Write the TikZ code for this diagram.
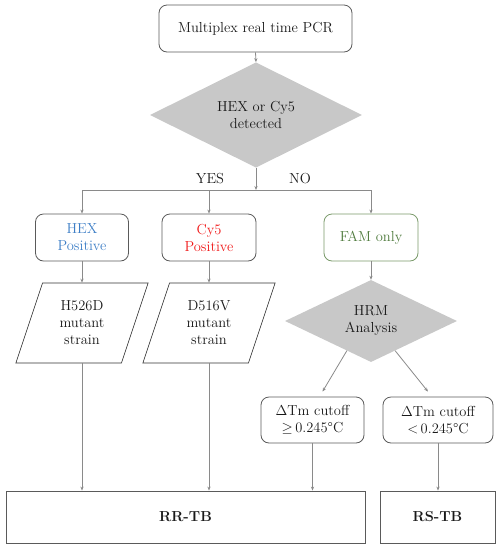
\documentclass[tikz,border=0pt]{standalone}
\usetikzlibrary{shapes.geometric,arrows.meta,calc}
\definecolor{linegray}{HTML}{8A8A8A}
\definecolor{boxgray}{HTML}{5A5A5A}
\definecolor{diafill}{HTML}{C8C8C8}
\definecolor{hexblue}{HTML}{3D7EC6}
\definecolor{cyred}{HTML}{F01818}
\definecolor{famgreen}{HTML}{4E7A3C}
\definecolor{famborder}{HTML}{7A9A6A}
\tikzset{
  txt/.style={font=\fontsize{14.5}{17}\selectfont, align=center, text=black!90},
  rbox/.style={txt, draw=boxgray, line width=0.8pt, rounded corners=8pt, inner sep=0pt},
  dia/.style={txt, diamond, fill=diafill, draw=none, inner sep=0pt},
  para/.style={txt, trapezium, trapezium left angle=71, trapezium right angle=109,
     trapezium stretches=true, draw=black!80, line width=0.6pt, inner sep=0pt,
     minimum width=133pt, minimum height=80pt},
  sbox/.style={txt, draw=boxgray, line width=0.8pt, inner sep=0pt},
  conn/.style={draw=linegray, line width=0.8pt},
  arr/.style={conn, -{Stealth[length=4pt,width=3.2pt]}},
  lbl/.style={txt}
}
\begin{document}
\begin{tikzpicture}[x=1pt,y=-1pt]
\useasboundingbox (0,0) rectangle (497,550);
% nodes
\node[rbox, minimum width=193pt, minimum height=47pt] (pcr) at (255.5,28.5) {Multiplex real time PCR};
\node[dia, minimum width=212pt, minimum height=81pt] (det) at (256,115) {HEX or Cy5\\detected};
\coordinate (junc) at (256,190);
\coordinate (jl) at (82,190);
\coordinate (jm) at (209,190);
\coordinate (jr) at (371,190);
\node[lbl] (yes) at (210,179) {YES};
\node[lbl] (no) at (300,179) {NO};
\node[rbox, minimum width=93pt, minimum height=47pt, text=hexblue] (hex) at (82,237.5) {HEX\\Positive};
\node[rbox, minimum width=94pt, minimum height=47pt, text=cyred] (cy5) at (209,237.5) {Cy5\\Positive};
\node[rbox, draw=famborder, minimum width=94pt, minimum height=47pt, text=famgreen] (fam) at (371,237.5) {FAM only};
\node[para] (h526) at (82,323) {H526D\\mutant\\strain};
\node[para] (d516) at (209,323) {D516V\\mutant\\strain};
\node[dia, minimum width=172pt, minimum height=76pt] (hrm) at (371,321) {HRM\\Analysis};
\node[rbox, minimum width=103pt, minimum height=46pt] (cut1) at (312.5,420) {$\Delta$Tm cutoff\\$\geq$\,0.245°C};
\node[rbox, minimum width=110pt, minimum height=46pt] (cut2) at (438,420) {$\Delta$Tm cutoff\\$<$\,0.245°C};
\node[sbox, minimum width=359pt, minimum height=52pt, font=\fontsize{14.5}{17}\selectfont\bfseries] (rr) at (185.5,517) {RR-TB};
\node[sbox, minimum width=115pt, minimum height=52pt, font=\fontsize{14.5}{17}\selectfont\bfseries] (rs) at (437.5,517) {RS-TB};
\coordinate (d1s) at ($(hrm.south)!0.28!(hrm.west)$);
\coordinate (d2s) at ($(hrm.south)!0.28!(hrm.east)$);
\coordinate (c1e) at ($(cut1.north)+(10,-5)$);
\coordinate (c2e) at ($(cut2.north)+(-10,-5)$);
% connectors
\draw[arr] (pcr.south) -- (det.north);
\draw[arr] (det.south) -- (junc);
\draw[conn] (jl) -- (jr);
\draw[arr] (jl) -- (hex.north);
\draw[arr] (jm) -- (cy5.north);
\draw[arr] (jr) -- (fam.north);
\draw[arr] (hex.south) -- (h526.north -| hex.south);
\draw[arr] (cy5.south) -- (d516.north -| cy5.south);
\draw[arr] (fam.south) -- (hrm.north);
\draw[arr] (h526.south -| hex.south) -- (rr.north -| hex.south);
\draw[arr] (d516.south -| cy5.south) -- (rr.north -| cy5.south);
\draw[arr] (d1s) -- (c1e);
\draw[arr] (d2s) -- (c2e);
\draw[arr] (cut1.south) -- (rr.north -| cut1.south);
\draw[arr] (cut2.south) -- (rs.north -| cut2.south);
\end{tikzpicture}
\end{document}
